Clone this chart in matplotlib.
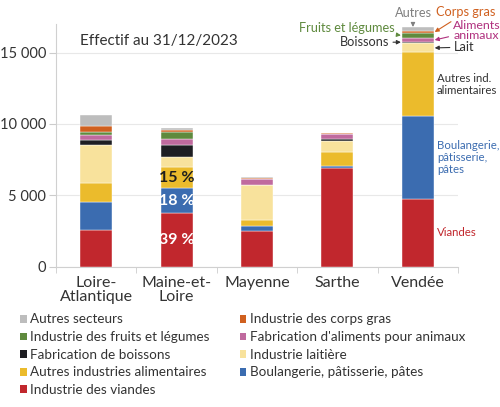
import matplotlib
matplotlib.use("Agg")
import matplotlib.pyplot as plt
import numpy as np
from matplotlib.patches import Patch

plt.rcParams['font.family'] = ['Lato', 'DejaVu Sans']

departements = ['Loire-\nAtlantique', 'Maine-et-\nLoire', 'Mayenne', 'Sarthe', 'Vendée']

# effectifs par secteur (bas -> haut de la pile)
viandes = [2550, 3740, 2520, 6890, 4720]
boulangerie = [1960, 1780, 350, 180, 5830]
autres_ind = [1350, 1440, 400, 940, 4460]
laitiere = [2640, 740, 2450, 810, 630]
boissons = [400, 840, 0, 120, 90]
aliments_animaux = [350, 380, 400, 350, 300]
fruits_legumes = [180, 490, 40, 20, 350]
corps_gras = [420, 160, 70, 30, 120]
autres_secteurs = [750, 110, 30, 40, 260]

series = [
    ('Industrie des viandes', viandes, '#c1272d'),
    ('Boulangerie, pâtisserie, pâtes', boulangerie, '#3b6cb0'),
    ('Autres industries alimentaires', autres_ind, '#ebbb2c'),
    ('Industrie laitière', laitiere, '#f8e29c'),
    ('Fabrication de boissons', boissons, '#1e1e22'),
    ("Fabrication d'aliments pour animaux", aliments_animaux, '#c06a9e'),
    ('Industrie des fruits et légumes', fruits_legumes, '#5f8a3e'),
    ('Industrie des corps gras', corps_gras, '#d0601f'),
    ('Autres secteurs', autres_secteurs, '#bdbdbd'),
]

fig = plt.figure(figsize=(5, 4.07), dpi=100)
ax = fig.add_axes([0.112, 0.345, 0.804, 0.596])

x = np.arange(len(departements))
bottom = np.zeros(len(departements))
for name, vals, col in series:
    ax.bar(x, vals, 0.4, bottom=bottom, color=col, edgecolor='white', linewidth=0.3, zorder=3)
    bottom += np.array(vals)

ax.set_xlim(-0.5, 4.5)
ax.set_ylim(0, 17000)
ax.set_yticks([0, 5000, 10000, 15000])
ax.set_yticklabels(['0', '5 000', '10 000', '15 000'], fontsize=10.5, color='#333333')
ax.set_xticks(x)
ax.set_xticklabels(departements, fontsize=11.5, color='#333333', linespacing=0.95)
ax.set_xticks(np.arange(-0.5, 5, 1), minor=True)
ax.tick_params(axis='x', which='major', length=0, pad=7)
ax.tick_params(axis='x', which='minor', length=4, color='#cccccc')
ax.tick_params(axis='y', length=5, color='#cccccc', pad=2)
ax.grid(axis='y', color='#e8e8e8', linewidth=0.8, zorder=0)
for s in ['top', 'right']:
    ax.spines[s].set_visible(False)
ax.spines['left'].set_color('#d0d0d0')
ax.spines['bottom'].set_color('#d0d0d0')

ax.text(0.06, 0.93, 'Effectif au 31/12/2023', transform=ax.transAxes, fontsize=11,
        color='#333333', va='center')

# pourcentages Maine-et-Loire
tot = sum(v[1] for _, v, _ in series)
b = 0
for vals, tc in [(viandes, 'white'), (boulangerie, 'white'), (autres_ind, '#1e1e1e')]:
    ax.text(1, b + vals[1] / 2, f'{round(vals[1] / tot * 100)} %', ha='center', va='center',
            fontsize=11.5, fontweight='bold', color=tc, zorder=4)
    b += vals[1]

# libellés à droite de la Vendée
b = 0
xr = 4.24
for vals, lab, col in [(viandes, 'Viandes', '#c1272d'),
                       (boulangerie, 'Boulangerie,\npâtisserie,\npâtes', '#3b6cb0'),
                       (autres_ind, 'Autres ind.\nalimentaires', '#333333')]:
    ax.text(xr, b + vals[4] / 2, lab, ha='left', va='center', fontsize=8.2, color=col,
            linespacing=1.15)
    b += vals[4]

# annotations du haut de la pile Vendée
cum = np.cumsum([v[4] for _, v, _ in series])
mid = cum - np.array([v[4] for _, v, _ in series]) / 2
ap = dict(arrowstyle='-|>', lw=0.8, mutation_scale=6, shrinkA=1, shrinkB=0)
fs = 9.2
ax.annotate('Lait', xy=(4.21, mid[3]), xytext=(4.45, 15380), fontsize=fs, color='#333333',
            va='center', ha='left', annotation_clip=False,
            arrowprops=dict(ap, color='#333333'))
ax.annotate('Boissons', xy=(3.79, mid[4] + 40), xytext=(3.64, 15730), fontsize=fs,
            color='#333333', va='center', ha='right', annotation_clip=False,
            arrowprops=dict(ap, color='#333333'))
ax.annotate('Fruits et légumes', xy=(3.79, mid[6]), xytext=(3.12, 16750), fontsize=fs,
            color='#5f8a3e', va='center', ha='center', annotation_clip=False,
            arrowprops=dict(ap, color='#5f8a3e'))
ax.annotate('Aliments\nanimaux', xy=(4.21, mid[5]), xytext=(4.73, 16560), fontsize=8.9,
            color='#b0307e', va='center', ha='center', linespacing=0.85,
            annotation_clip=False, arrowprops=dict(ap, color='#b0307e'))
ax.annotate('Corps gras', xy=(4.21, mid[7]), xytext=(4.6, 17830), fontsize=fs,
            color='#d0601f', va='center', ha='center', annotation_clip=False,
            arrowprops=dict(ap, color='#d0601f'))
ax.annotate('Autres', xy=(3.94, cum[8] + 30), xytext=(3.94, 17760), fontsize=fs,
            color='#808080', va='center', ha='center', annotation_clip=False,
            arrowprops=dict(ap, color='#808080'))

# légende
order = [8, 6, 4, 2, 0, 7, 5, 3, 1]
handles = [Patch(facecolor=series[i][2], label=series[i][0]) for i in order]
fig.legend(handles=handles, loc='upper left', bbox_to_anchor=(0.03, 0.243), ncol=2,
           frameon=False, fontsize=9.7, handlelength=0.5, handleheight=0.5,
           handletextpad=0.25, columnspacing=2.2, labelspacing=0.42, borderaxespad=0,
           labelcolor='#333333')

fig.savefig('out.png', dpi=100)
